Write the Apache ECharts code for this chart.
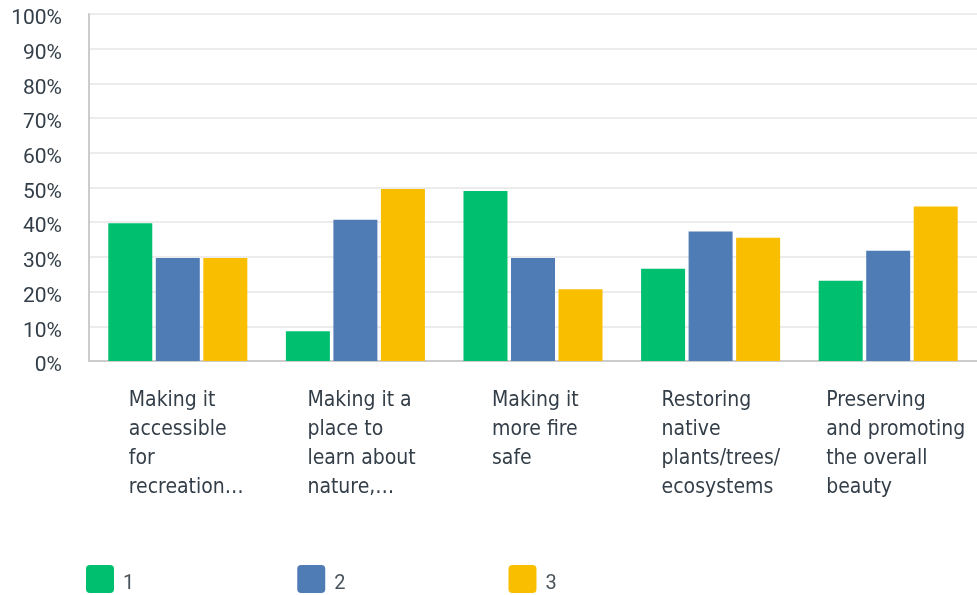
<!DOCTYPE html>
<html><head><meta charset="utf-8">
<script src="https://cdn.jsdelivr.net/npm/echarts@6/dist/echarts.min.js"></script>
<style>html,body{margin:0;padding:0;background:#fff}#c{width:977px;height:595px}</style>
</head><body><div id="c"></div>
<script>
const categories = [
  "Making it\naccessible\nfor\nrecreation…",
  "Making it a\nplace to\nlearn about\nnature,…",
  "Making it\nmore fire\nsafe",
  "Restoring\nnative\nplants/trees/\necosystems",
  "Preserving\nand promoting\nthe overall\nbeauty"
];
const seriesNames = ["1", "2", "3"];
const values1 = [39.7, 8.6, 49.0, 26.6, 23.1];
const values2 = [29.7, 40.7, 29.7, 37.3, 31.8];
const values3 = [29.7, 49.6, 20.7, 35.5, 44.5];
const yTicks = [0, 10, 20, 30, 40, 50, 60, 70, 80, 90, 100];

const colors = ["#00bf6f", "#507cb6", "#f9be00"];
const labelWidths = [98, 96, 82, 98, 124];
const txt = "#333e48";
const rich = {};
labelWidths.forEach((w, i) => {
  rich["w" + i] = { width: w, align: "left", fontSize: 21, lineHeight: 29, color: txt, fontFamily: "'DejaVu Sans Condensed', Roboto, sans-serif" };
});

const chart = echarts.init(document.getElementById("c"));
chart.setOption({
  animation: false,
  color: colors,
  grid: { left: 89, right: 0, top: 14, bottom: 234, containLabel: false },
  legend: {
    data: seriesNames,
    left: 86, top: 565, padding: 0,
    itemWidth: 28, itemHeight: 28, itemGap: 163,
    icon: "path://M4,0 H24 A4,4 0 0 1 28,4 V24 A4,4 0 0 1 24,28 H4 A4,4 0 0 1 0,24 V4 A4,4 0 0 1 4,0 Z",
    formatter: "{t|{name}}",
    textStyle: {
      fontSize: 20, color: "#4a545c", fontFamily: "Roboto, sans-serif", padding: [0, 0, 0, 4],
      rich: { t: { fontSize: 20, color: "#4a545c", fontFamily: "Roboto, sans-serif", padding: [9, 0, 0, 0] } }
    }
  },
  xAxis: {
    type: "category",
    data: categories,
    axisTick: { show: false },
    axisLine: { lineStyle: { color: "#cccccc", width: 2 } },
    axisLabel: {
      interval: 0,
      margin: 25,
      formatter: (v, idx) => v.split("\n").map(l => "{w" + idx + "|" + l + "}").join("\n"),
      rich: rich
    }
  },
  yAxis: {
    type: "value",
    min: yTicks[0], max: yTicks[yTicks.length - 1], interval: 10,
    axisLine: { show: true, lineStyle: { color: "#cccccc", width: 2 } },
    axisTick: { show: false },
    splitLine: { lineStyle: { color: "#ececec", width: 2 } },
    axisLabel: { formatter: "{value}%", fontSize: 21, color: txt, margin: 27, verticalAlign: "top", lineHeight: 10, fontFamily: "Roboto, sans-serif" }
  },
  series: [values1, values2, values3].map((d, i) => ({
    name: seriesNames[i],
    type: "bar",
    data: d,
    barWidth: 44,
    barGap: "8%"
  }))
});
</script></body></html>
